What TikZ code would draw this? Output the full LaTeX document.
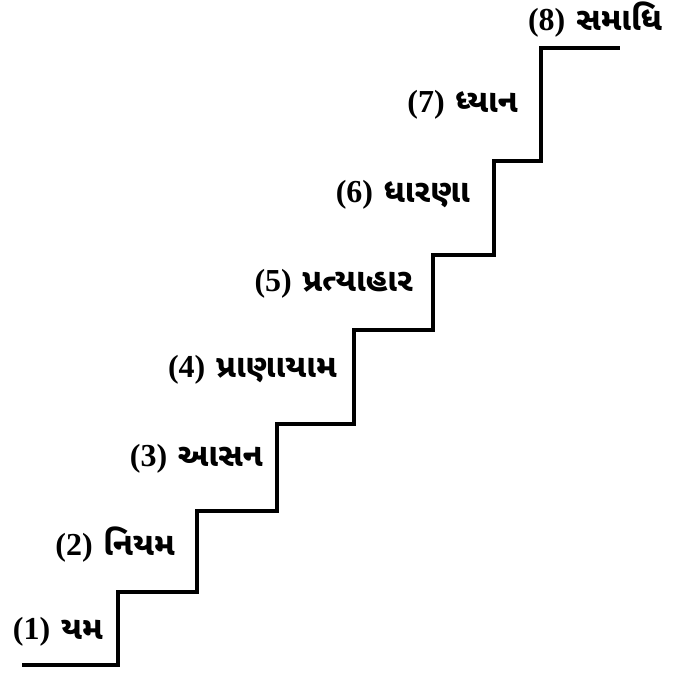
\documentclass[tikz,border=0pt]{standalone}
\usepackage{fontspec}
\setmainfont{Liberation Serif}
\newfontfamily\gujfont[Script=Gujarati]{Noto Sans Gujarati UI}
\tikzset{
  stair/.style={line width=4.2pt, line join=miter, line cap=butt},
  steplabel/.style={anchor=east, inner sep=0pt, font=\fontsize{32}{35}\selectfont},
}
\newcommand{\stagelabel}[2]{\textbf{(#1)}\,\,{\gujfont\bfseries #2}}
\begin{document}
\begin{tikzpicture}[x=1pt,y=-1pt]
  \useasboundingbox (0,0) rectangle (680,676);
  % corners of the staircase, bottom to top
  \coordinate (p0)  at (22,665);
  \coordinate (p1)  at (118,665);
  \coordinate (p2)  at (118,592);
  \coordinate (p3)  at (197,592);
  \coordinate (p4)  at (197,511);
  \coordinate (p5)  at (277,511);
  \coordinate (p6)  at (277,424);
  \coordinate (p7)  at (354,424);
  \coordinate (p8)  at (354,330);
  \coordinate (p9)  at (433,330);
  \coordinate (p10) at (433,255);
  \coordinate (p11) at (494,255);
  \coordinate (p12) at (494,161);
  \coordinate (p13) at (541,161);
  \coordinate (p14) at (541,48);
  \coordinate (p15) at (620,48);
  \draw[stair] (p0) -- (p1) -- (p2) -- (p3) -- (p4) -- (p5) -- (p6) -- (p7)
    -- (p8) -- (p9) -- (p10) -- (p11) -- (p12) -- (p13) -- (p14) -- (p15);
  % the eight limbs, each beside its riser
  \node[steplabel] (s1) at (103,632) {\stagelabel{1}{યમ}};
  \node[steplabel] (s2) at (175,545) {\stagelabel{2}{નિયમ}};
  \node[steplabel] (s3) at (263,459) {\stagelabel{3}{આસન}};
  \node[steplabel] (s4) at (337,370) {\stagelabel{4}{પ્રાણાયામ}};
  \node[steplabel] (s5) at (413,284) {\stagelabel{5}{પ્રત્યાહાર}};
  \node[steplabel] (s6) at (470,195) {\stagelabel{6}{ધારણા}};
  \node[steplabel] (s7) at (518,105) {\stagelabel{7}{ધ્યાન}};
  \node[steplabel, anchor=center] (s8) at (595,20) {\stagelabel{8}{સમાધિ}};
\end{tikzpicture}
\end{document}
